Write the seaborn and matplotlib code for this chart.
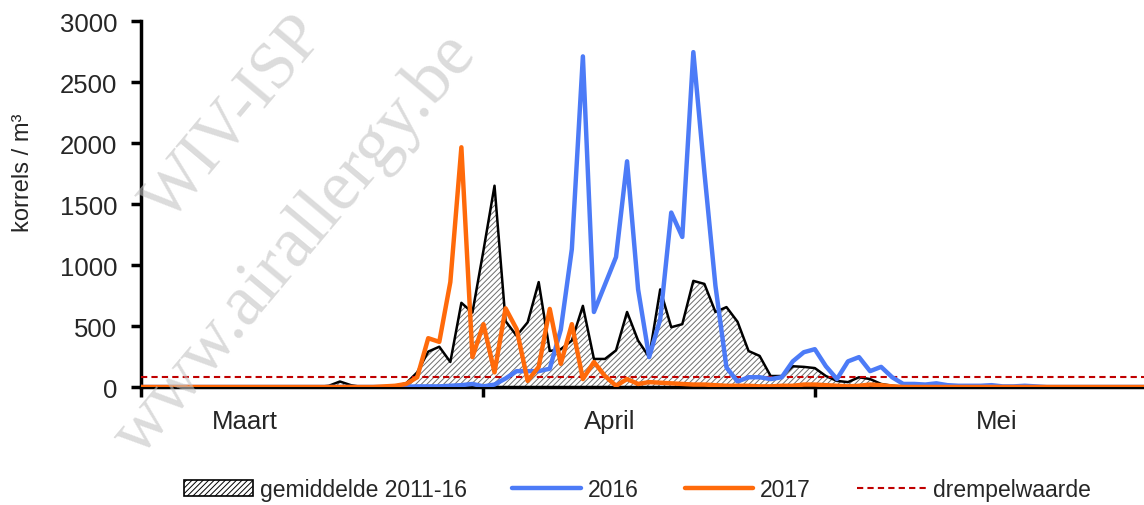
import pandas as pd
import matplotlib.pyplot as plt
import seaborn as sns
from matplotlib.patches import Patch
from matplotlib.lines import Line2D

# daily pollen counts, 1 March - 31 May
dates = pd.date_range("2017-03-01", "2017-05-31", freq="D")

gemiddelde = [0] * 17 + [
    10, 45, 15, 0, 0, 5, 10, 30, 120, 290, 330, 205, 690, 610,
    1120, 1650, 540, 420, 530, 860, 295, 310, 380, 665, 230, 230, 300, 615,
    380, 245, 800, 490, 515, 870, 845, 615, 655, 535, 295, 255, 90, 90,
    170, 165, 155, 90, 50, 40, 80, 65, 25, 10, 5, 5] + [0] * 21

jaar_2016 = [0] * 24 + [
    2, 5, 5, 5, 10, 15, 25, 5, 20, 70, 130, 130, 130, 150, 470, 1130,
    2710, 615, 840, 1065, 1850, 800, 245, 555, 1430, 1230, 2745, 1760, 830,
    160, 45, 80, 80, 65, 80, 210, 285, 310, 170, 65, 210, 245, 130, 165, 80,
    25, 25, 20, 30, 15, 10, 10, 10, 15, 5, 5, 10, 5] + [0] * 10

jaar_2017 = [0] * 22 + [
    5, 10, 25, 80, 400, 370, 860, 1965, 245, 515, 120, 645, 475, 50, 165,
    640, 190, 515, 65, 205, 90, 10, 65, 25, 40, 35, 30, 25, 20, 20, 15, 10,
    10, 10, 5, 5, 10, 10, 20, 20, 15, 10, 5, 10, 20, 15, 5] + [0] * 23

drempelwaarde = 80

df = pd.DataFrame({"datum": dates, "gemiddelde": gemiddelde,
                   "2016": jaar_2016, "2017": jaar_2017})

sns.set_style("white")
plt.rcParams['font.family'] = ['Liberation Sans', 'DejaVu Sans']
plt.rcParams['hatch.linewidth'] = 0.7

fig = plt.figure(figsize=(11.44, 5.06), dpi=100)
ax = fig.add_axes([0.1233, 0.2332, 0.8767, 0.7233])

# average 2011-16: hatched area with black outline
ax.fill_between(df["datum"], df["gemiddelde"], 0, facecolor="white",
                edgecolor="#6e6e6e", hatch="//////", linewidth=0, zorder=1)
sns.lineplot(data=df, x="datum", y="gemiddelde", color="black", linewidth=1.8,
             ax=ax, zorder=2)
ax.axhline(drempelwaarde, color="#C00000", linewidth=1.5, dashes=(3, 2), zorder=3)
sns.lineplot(data=df, x="datum", y="2016", color="#4C7BF7", linewidth=3.2,
             ax=ax, zorder=4)
sns.lineplot(data=df, x="datum", y="2017", color="#FF6A0A", linewidth=3.2,
             ax=ax, zorder=5)

ax.set_xlim(dates[0], dates[0] + pd.Timedelta(days=90.8))
ax.set_ylim(0, 3000)
ax.set_yticks(range(0, 3001, 500))
ax.set_xticks([dates[0], pd.Timestamp("2017-04-01"), pd.Timestamp("2017-05-01")])
ax.set_xticklabels([])
ax.set_xticks([dates[0] + pd.Timedelta(days=9.4), dates[0] + pd.Timedelta(days=42.4),
               dates[0] + pd.Timedelta(days=77.5)], minor=True)
ax.set_xticklabels(["Maart", "April", "Mei"], minor=True)
ax.tick_params(axis="x", which="major", length=7, width=2.5, direction="out",
               bottom=True, color="black")
ax.tick_params(axis="x", which="minor", length=0, pad=16, labelsize=18.5)
ax.tick_params(axis="y", length=7, width=2.5, direction="out", left=True,
               pad=10, labelsize=18.5, color="black")

for side in ["top", "right"]:
    ax.spines[side].set_visible(False)
for side in ["left", "bottom"]:
    ax.spines[side].set_color("black")
    ax.spines[side].set_linewidth(2.5)

ax.set_xlabel("")
ax.set_ylabel("korrels / m³", fontsize=17)
ax.yaxis.set_label_coords(-0.107, 0.587)

handles = [
    Patch(facecolor="white", edgecolor="black", hatch="//////", linewidth=1.2),
    Line2D([], [], color="#4C7BF7", linewidth=3.2),
    Line2D([], [], color="#FF6A0A", linewidth=3.2),
    Line2D([], [], color="#C00000", linewidth=1.5, dashes=(3, 2)),
]
labels = ["gemiddelde 2011-16", "2016", "2017", "drempelwaarde"]
fig.legend(handles, labels, loc="center", bbox_to_anchor=(0.557, 0.03), ncol=4,
           frameon=False, fontsize=16.5, handlelength=3.0, handletextpad=0.3,
           columnspacing=2.0)

# watermark
fig.text(0.205, 0.765, "WIV-ISP", fontsize=48, family="Liberation Serif",
         color="#c4c4c4", alpha=0.6, rotation=50, ha="center", va="center",
         zorder=10)
fig.text(0.258, 0.515, "www.airallergy.be", fontsize=52, family="Liberation Serif",
         color="#c4c4c4", alpha=0.6, rotation=50, ha="center", va="center",
         zorder=10)

fig.savefig("out.png", dpi=100)
